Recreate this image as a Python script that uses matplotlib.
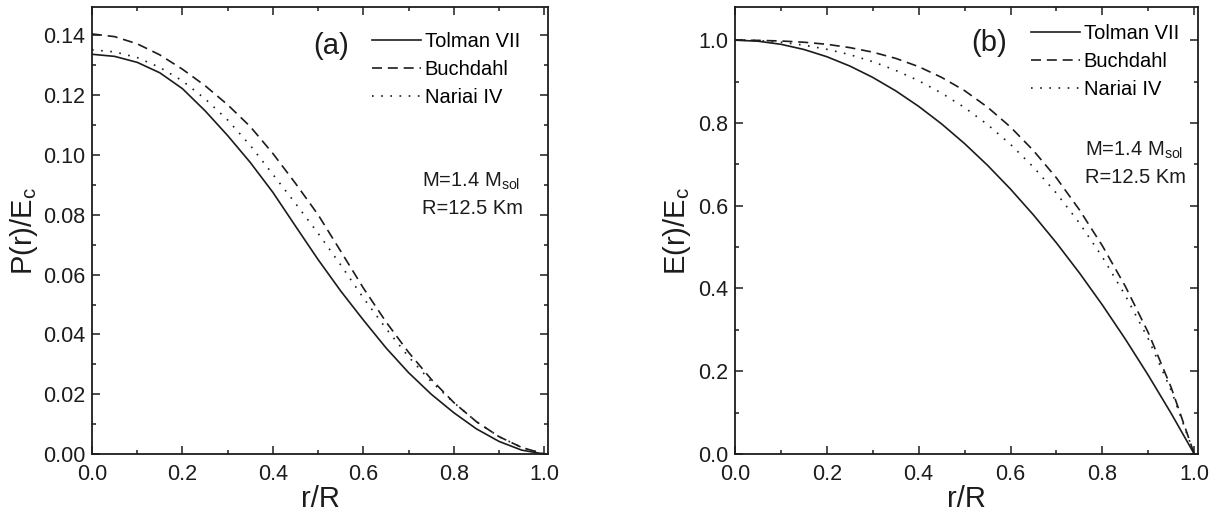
import numpy as np
import matplotlib
matplotlib.use("Agg")
import matplotlib.pyplot as plt
from matplotlib.ticker import MultipleLocator, FormatStrFormatter

plt.rcParams['font.family'] = ['Liberation Sans Narrow', 'Liberation Sans', 'DejaVu Sans']
plt.rcParams['mathtext.fontset'] = 'custom'
plt.rcParams['mathtext.rm'] = 'Liberation Sans'

# r/R sampling
r = [0.00, 0.05, 0.10, 0.15, 0.20, 0.25, 0.30, 0.35, 0.40, 0.45, 0.50,
     0.55, 0.60, 0.65, 0.70, 0.75, 0.80, 0.85, 0.90, 0.95, 1.00]

# panel (a): P(r)/E_c
p_tolman = [0.1337, 0.1330, 0.1310, 0.1275, 0.1222, 0.1148, 0.1065, 0.0975, 0.0875, 0.0762, 0.0650,
            0.0545, 0.0448, 0.0355, 0.0272, 0.0200, 0.0138, 0.0084, 0.0042, 0.0013, 0.0000]
p_buchdahl = [0.1405, 0.1396, 0.1372, 0.1335, 0.1287, 0.1232, 0.1168, 0.1095, 0.1005, 0.0905, 0.0800,
              0.0678, 0.0555, 0.0442, 0.0340, 0.0250, 0.0172, 0.0108, 0.0058, 0.0022, 0.0000]
p_nariai = [0.1352, 0.1345, 0.1326, 0.1293, 0.1248, 0.1188, 0.1117, 0.1032, 0.0935, 0.0838, 0.0738,
            0.0632, 0.0522, 0.0420, 0.0325, 0.0242, 0.0172, 0.0108, 0.0058, 0.0022, 0.0000]

# panel (b): E(r)/E_c
e_tolman = [1.000, 0.9975, 0.990, 0.9775, 0.960, 0.9375, 0.910, 0.8775, 0.840, 0.7975, 0.750,
            0.6975, 0.640, 0.5775, 0.510, 0.4375, 0.360, 0.2775, 0.190, 0.0975, 0.000]
e_buchdahl = [1.000, 0.9995, 0.998, 0.995, 0.990, 0.982, 0.971, 0.956, 0.936, 0.910, 0.878,
              0.838, 0.790, 0.733, 0.667, 0.590, 0.503, 0.405, 0.293, 0.160, 0.000]
e_nariai = [1.000, 0.999, 0.995, 0.988, 0.978, 0.965, 0.948, 0.927, 0.902, 0.872, 0.837,
            0.796, 0.748, 0.693, 0.630, 0.558, 0.476, 0.383, 0.278, 0.153, 0.000]

labels = ['Tolman VII', 'Buchdahl', 'Nariai IV']
styles = ['-', (0, (6, 3.5)), (0, (1, 4.5))]
INK = '#1c1c1c'


def style_axes(ax, ymax, ymajor, yminor, yfmt):
    ax.set_xlim(0, 1.008)
    ax.set_ylim(0, ymax)
    ax.xaxis.set_major_locator(MultipleLocator(0.2))
    ax.xaxis.set_minor_locator(MultipleLocator(0.1))
    ax.yaxis.set_major_locator(MultipleLocator(ymajor))
    ax.yaxis.set_minor_locator(MultipleLocator(yminor))
    ax.xaxis.set_major_formatter(FormatStrFormatter('%.1f'))
    ax.yaxis.set_major_formatter(FormatStrFormatter(yfmt))
    ax.tick_params(which='both', direction='in', top=True, right=True,
                   color=INK, width=1.1, labelsize=15.5, labelcolor=INK)
    ax.tick_params(which='major', length=6)
    ax.tick_params(which='minor', length=3)
    ax.tick_params(axis='x', which='major', pad=7)
    ax.tick_params(axis='y', which='major', pad=5)
    for sp in ax.spines.values():
        sp.set_linewidth(1.3)
        sp.set_color(INK)
    ax.set_xlabel('r/R', fontsize=21, color=INK, labelpad=0)


fig = plt.figure(figsize=(12.12, 5.14), dpi=100)
ax1 = fig.add_axes([0.0759, 0.1167, 0.3762, 0.8696])
ax2 = fig.add_axes([0.6064, 0.1167, 0.3820, 0.8696])

for ys, lab, ls in zip([p_tolman, p_buchdahl, p_nariai], labels, styles):
    ax1.plot(r, ys, color=INK, lw=1.2, linestyle=ls, label=lab)
for ys, lab, ls in zip([e_tolman, e_buchdahl, e_nariai], labels, styles):
    ax2.plot(r, ys, color=INK, lw=1.2, linestyle=ls, label=lab)

style_axes(ax1, 0.1495, 0.02, 0.01, '%.2f')
style_axes(ax2, 1.08, 0.2, 0.1, '%.1f')

ax1.set_ylabel(r'P(r)/E$_{\mathregular{c}}$', fontsize=21, color=INK)
ax1.yaxis.set_label_coords(-0.115, 0.5)
ax2.set_ylabel(r'E(r)/E$_{\mathregular{c}}$', fontsize=21, color=INK)
ax2.yaxis.set_label_coords(-0.09, 0.5)

ax1.text(0.524, 0.913, '(a)', transform=ax1.transAxes, fontsize=21,
         ha='center', va='center', color=INK)
ax2.text(0.549, 0.919, '(b)', transform=ax2.transAxes, fontsize=21,
         ha='center', va='center', color=INK)

ax1.text(0.724, 0.611, r'M=1.4 M$_{\mathregular{sol}}$', transform=ax1.transAxes,
         fontsize=14.5, va='center', color=INK)
ax1.text(0.724, 0.550, 'R=12.5 Km', transform=ax1.transAxes,
         fontsize=14.5, va='center', color=INK)
ax2.text(0.755, 0.680, r'M=1.4 M$_{\mathregular{sol}}$', transform=ax2.transAxes,
         fontsize=14.5, va='center', color=INK)
ax2.text(0.755, 0.618, 'R=12.5 Km', transform=ax2.transAxes,
         fontsize=14.5, va='center', color=INK)

for ax, anchor in [(ax1, (0.615, 0.944)), (ax2, (0.640, 0.962))]:
    ax.legend(loc='upper left', bbox_to_anchor=anchor, frameon=False,
              fontsize=14.5, handlelength=2.4, handletextpad=0.2,
              labelspacing=0.45, borderpad=0, borderaxespad=0)

fig.savefig('out.png', dpi=100)
